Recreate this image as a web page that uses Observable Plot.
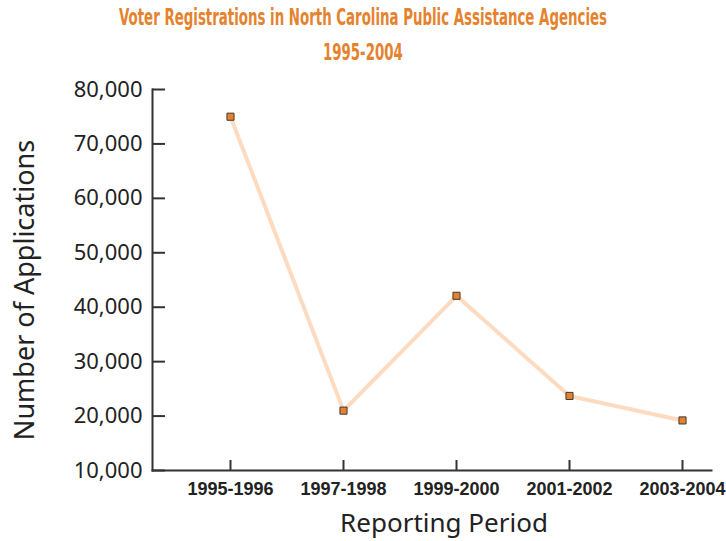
<!DOCTYPE html>
<html>
<head>
<meta charset="utf-8">
<script src="https://cdn.jsdelivr.net/npm/d3@7"></script>
<script src="https://cdn.jsdelivr.net/npm/@observablehq/plot@0.6"></script>
<style>
  html, body { margin: 0; padding: 0; background: #fff; overflow: hidden; }
  #wrap { width: 726px; overflow: hidden; }
  #title {
    width: 900px; margin-left: -87px;
    height: 70px; line-height: 35px; text-align: center;
    font-family: "DejaVu Sans Condensed", "Liberation Sans Narrow", "Liberation Sans", sans-serif;
    font-stretch: condensed;
    font-weight: bold; font-size: 23px; color: #E5822E; white-space: nowrap;
  }
  #title span { display: inline-block; transform-origin: center center; }
</style>
</head>
<body>
<div id="wrap">
  <div id="title"><span id="t1">Voter Registrations in North Carolina Public Assistance Agencies</span><br><span id="t2">1995-2004</span></div>
  <div id="chart"></div>
</div>
<script>
const titleLine1 = "Voter Registrations in North Carolina Public Assistance Agencies";
const titleLine2 = "1995-2004";
const periods = ["1995-1996", "1997-1998", "1999-2000", "2001-2002", "2003-2004"];
const applications = [75000, 21000, 42100, 23700, 19200];
const yTicks = [10000, 20000, 30000, 40000, 50000, 60000, 70000, 80000];
const xTitle = "Reporting Period";
const yTitle = "Number of Applications";

// fit the condensed title to the reference width
const t1 = document.getElementById("t1"), t2 = document.getElementById("t2");
const targetW = 488;
const s = targetW / t1.getBoundingClientRect().width;
t1.style.transform = `scaleX(${s})`;
t2.style.transform = `scaleX(${s})`;

const data = periods.map((p, i) => ({period: p, value: applications[i]}));

const W = 726, H = 471;
const mL = 152, mR = 15, mT = 19, mB = 71;
const frameW = W - mL - mR, frameH = H - mT - mB;
const axisColor = "#333";

const chart = Plot.plot({
  width: W, height: H,
  marginLeft: mL, marginRight: mR, marginTop: mT, marginBottom: mB,
  style: {background: "#fff", overflow: "visible"},
  x: {type: "point", domain: periods, padding: 0.473, align: 0.73},
  y: {domain: [10000, 80000]},
  marks: [
    Plot.axisY(yTicks, {tickSize: 0, tickPadding: 10, tickFormat: d3.format(","),
      fontSize: 22, fontFamily: "Noto Sans", fill: "#222", label: null}),
    Plot.axisX(periods, {tickSize: 0, tickPadding: 12, fontSize: 18, fontWeight: "bold",
      fontFamily: "Liberation Sans", fill: "#222", label: null, style: "letter-spacing: 1.1px"}),
    Plot.tickY(yTicks, {y: d => d, stroke: axisColor, strokeWidth: 2, insetRight: frameW - 13}),
    Plot.tickX(periods, {x: d => d, stroke: axisColor, strokeWidth: 2, insetTop: frameH - 10}),
    Plot.frame({anchor: "left", stroke: axisColor, strokeWidth: 2}),
    Plot.frame({anchor: "bottom", stroke: axisColor, strokeWidth: 2}),
    Plot.line(data, {x: "period", y: "value", stroke: "#FDDBC0", strokeWidth: 4}),
    Plot.dot(data, {x: "period", y: "value", symbol: "square", r: 4, fill: "#E8822A", stroke: "#3a3a3a", strokeWidth: 1}),
    Plot.text([yTitle], {frameAnchor: "left", textAnchor: "middle", rotate: -90, dx: -127, dy: 10,
      fontSize: 27, fontFamily: "Noto Sans", fill: "#222"}),
    Plot.text([xTitle], {frameAnchor: "bottom", dx: 12, dy: 61, fontSize: 26,
      fontFamily: "Noto Sans", fill: "#222"})
  ]
});
document.getElementById("chart").appendChild(chart);
</script>
</body>
</html>
